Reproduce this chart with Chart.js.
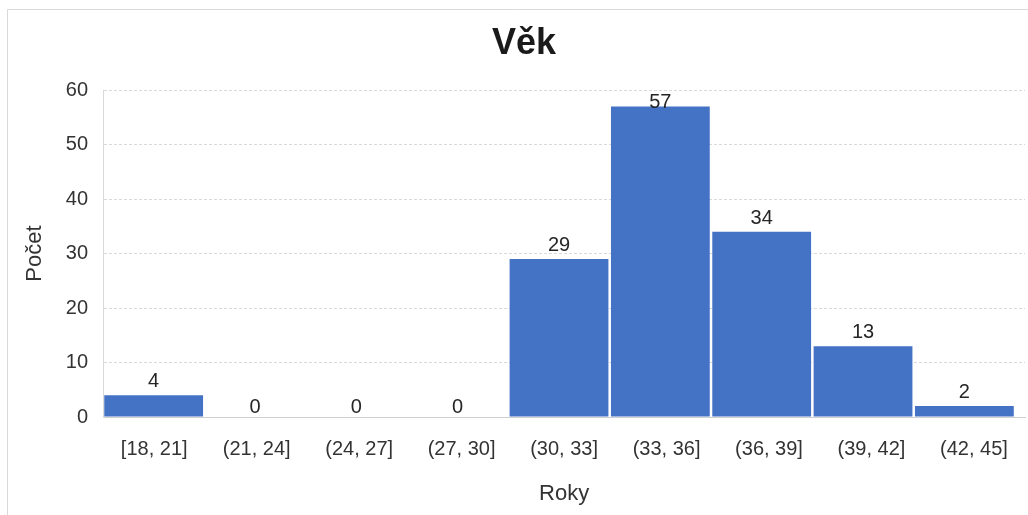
<!DOCTYPE html>
<html>
<head>
<meta charset="utf-8">
<script src="https://cdn.jsdelivr.net/npm/chart.js@4.4.1/dist/chart.umd.min.js"></script>
<style>
  html, body { margin: 0; padding: 0; background: #fff; }
  #wrap { width: 1028px; height: 515px; position: relative; }
</style>
</head>
<body>
<div id="wrap"><canvas id="c"></canvas></div>
<script>
const categories = ["[18, 21]", "(21, 24]", "(24, 27]", "(27, 30]", "(30, 33]", "(33, 36]", "(36, 39]", "(39, 42]", "(42, 45]"];
const counts = [4, 0, 0, 0, 29, 57, 34, 13, 2];
const yTicks = [0, 10, 20, 30, 40, 50, 60];

const FONT = "'Liberation Sans', Arial, sans-serif";

// bars are placed by bin index on a hidden linear axis (bin i spans i..i+1)
const barPoints = counts.map((v, i) => ({ x: i + 0.5, y: v }));

const frame = {
  id: 'frame',
  beforeDraw(chart) {
    const ctx = chart.ctx;
    ctx.save();
    ctx.fillStyle = '#fff';
    ctx.fillRect(0, 0, chart.width, chart.height);
    ctx.strokeStyle = '#d9d9d9';
    ctx.lineWidth = 1;
    ctx.beginPath();
    ctx.moveTo(7.5, chart.height + 5);
    ctx.lineTo(7.5, 9.5);
    ctx.lineTo(chart.width + 5, 9.5);
    ctx.stroke();
    ctx.restore();
  }
};

const valueLabels = {
  id: 'valueLabels',
  afterDatasetsDraw(chart) {
    const ctx = chart.ctx;
    const meta = chart.getDatasetMeta(0);
    const top = chart.chartArea.top;
    ctx.save();
    ctx.font = "20px " + FONT;
    ctx.fillStyle = '#262626';
    ctx.textAlign = 'center';
    ctx.textBaseline = 'alphabetic';
    meta.data.forEach((bar, i) => {
      const v = counts[i];
      let y = bar.y - (v === 0 ? 4 : 8);
      y = Math.max(y, top + 18);
      ctx.fillText(String(v), bar.x, y);
    });
    ctx.restore();
  }
};

new Chart(document.getElementById('c'), {
  type: 'bar',
  data: {
    labels: categories,
    datasets: [{
      data: barPoints,
      xAxisID: 'xb',
      backgroundColor: '#4472C4',
      borderWidth: 0,
      barPercentage: 0.975,
      categoryPercentage: 1.0
    }]
  },
  options: {
    responsive: true,
    maintainAspectRatio: false,
    devicePixelRatio: 1,
    animation: false,
    layout: { padding: { left: 22, right: 2, top: 0, bottom: 0 } },
    plugins: {
      legend: { display: false },
      tooltip: { enabled: false },
      title: {
        display: true,
        text: 'Věk',
        color: '#1a1a1a',
        font: { family: FONT, size: 36, weight: 'bold', lineHeight: 1.2 },
        padding: { top: 22, bottom: 25 }
      }
    },
    scales: {
      xb: {
        type: 'linear',
        display: false,
        min: 0,
        max: 9.1,
        offset: false
      },
      x: {
        type: 'category',
        grid: { display: false, drawTicks: false },
        border: { display: true, color: '#cfcfcf', dash: [3, 2] },
        ticks: { color: '#333', font: { family: FONT, size: 20 }, padding: 20, maxRotation: 0, autoSkip: false },
        title: { display: true, text: 'Roky', color: '#333', font: { family: FONT, size: 22, lineHeight: 1.2 }, padding: { top: 0, bottom: 8 } },
        afterFit(scale) { scale.height = 98; }
      },
      y: {
        min: 0,
        max: 60,
        afterBuildTicks(scale) { scale.ticks = yTicks.map(v => ({ value: v })); },
        grid: { color: '#d9d9d9', drawTicks: false, lineWidth: 1 },
        border: { display: true, color: '#d9d9d9', dash: [3, 2] },
        ticks: { color: '#333', font: { family: FONT, size: 20 }, padding: 15 },
        title: { display: true, text: 'Počet', color: '#333', font: { family: FONT, size: 22, lineHeight: 1.2 }, padding: { top: 0, bottom: 0 } },
        afterFit(scale) { scale.width = 81; }
      }
    }
  },
  plugins: [frame, valueLabels]
});
</script>
</body>
</html>
